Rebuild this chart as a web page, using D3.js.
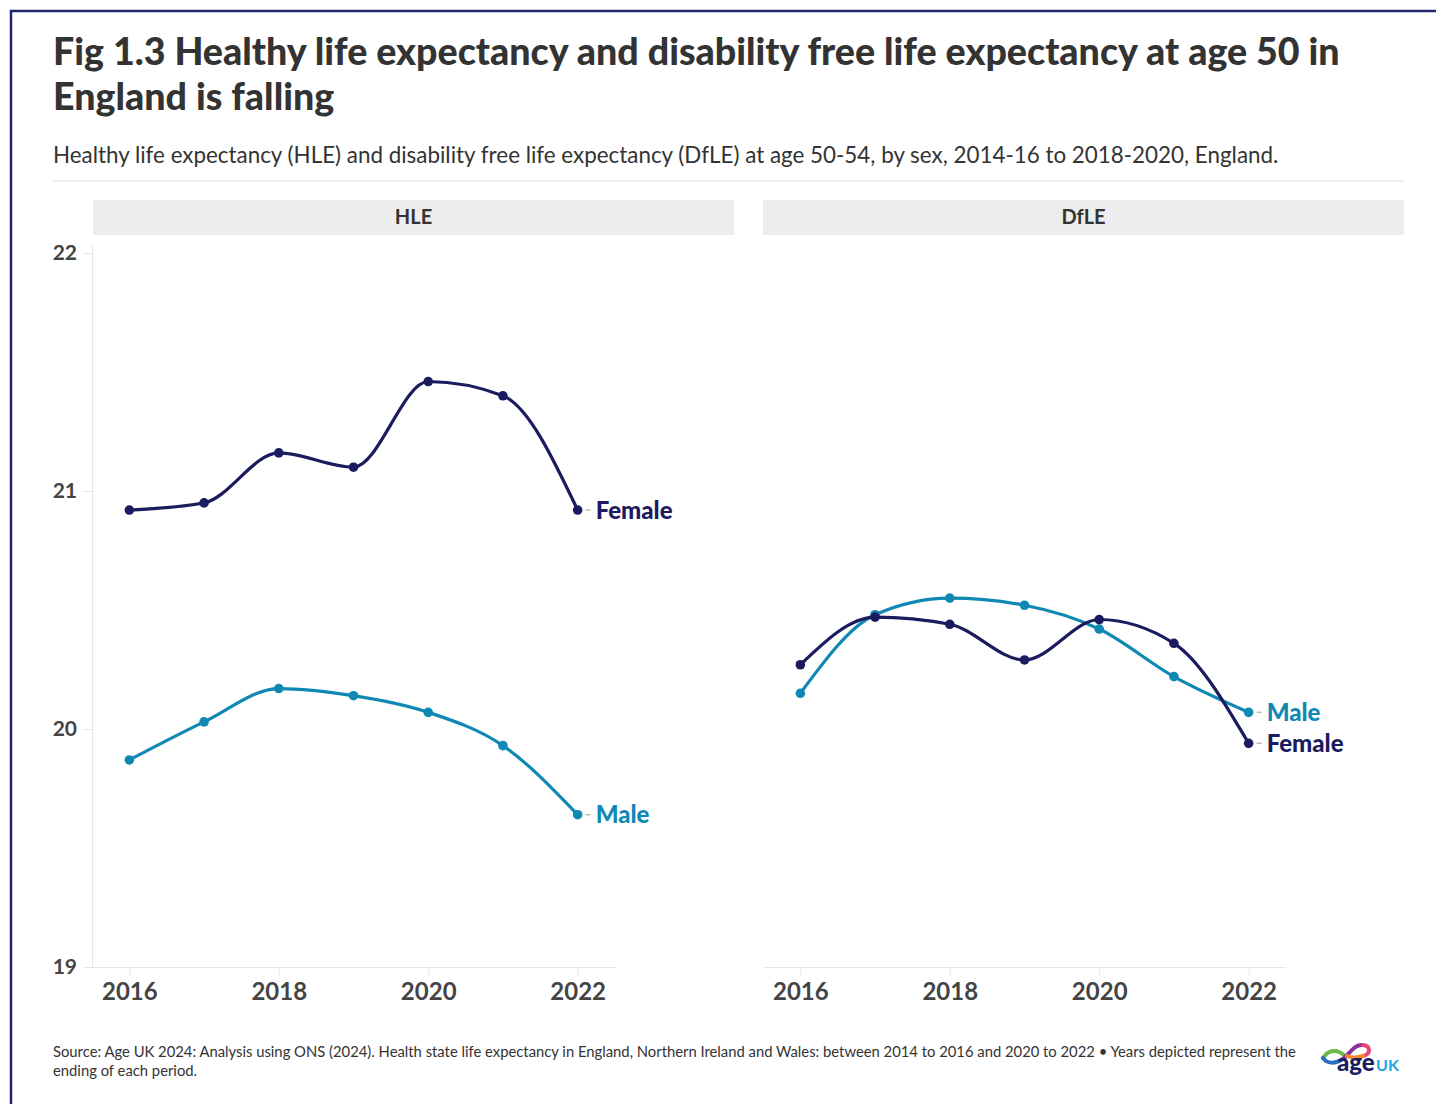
<!DOCTYPE html>
<html><head><meta charset="utf-8">
<script src="https://cdn.jsdelivr.net/npm/d3@7/dist/d3.min.js"></script>
<style>
html,body{margin:0;padding:0;background:#fff;}
svg{display:block;}
</style></head>
<body>
<svg id="chart" width="1436" height="1104"></svg>
<script>
const years = [2016, 2017, 2018, 2019, 2020, 2021, 2022];
const panels = ["HLE", "DfLE"];
const hleFemale = [20.92, 20.95, 21.16, 21.10, 21.46, 21.40, 20.92];
const hleMale   = [19.87, 20.03, 20.17, 20.14, 20.07, 19.93, 19.64];
const dfleFemale = [20.27, 20.47, 20.44, 20.29, 20.46, 20.36, 19.94];
const dfleMale   = [20.15, 20.48, 20.55, 20.52, 20.42, 20.22, 20.07];
const yTicks = [19, 20, 21, 22];
const xTicks = [2016, 2018, 2020, 2022];
const seriesNames = ["Female", "Male"];

const titleLines = ["Fig 1.3 Healthy life expectancy and disability free life expectancy at age 50 in", "England is falling"];
const subtitle = "Healthy life expectancy (HLE) and disability free life expectancy (DfLE) at age 50-54, by sex, 2014-16 to 2018-2020, England.";
const sourceLines = ["Source: Age UK 2024: Analysis using ONS (2024). Health state life expectancy in England, Northern Ireland and Wales: between 2014 to 2016 and 2020 to 2022 \u2022 Years depicted represent the", "ending of each period."];

const colors = {Female: "#1b1b5f", Male: "#0f88b4"};
const FONT = "Lato, 'Noto Sans', sans-serif";

const svg = d3.select("#chart");

// border
svg.append("path").attr("d", "M11,1104 L11,11 L1436,11")
  .attr("fill", "none").attr("stroke", "#23246e").attr("stroke-width", 2.5);

// title
const title = svg.append("text").attr("x", 53).attr("font-family", FONT)
  .attr("font-weight", 900).attr("font-size", 37.6).attr("fill", "#333");
titleLines.forEach((t, i) => title.append("tspan").attr("x", 53).attr("y", 65 + i * 45).text(t));

svg.append("text").attr("x", 53).attr("y", 163).attr("font-family", FONT)
  .attr("font-size", 22.4).attr("fill", "#333").text(subtitle);

svg.append("line").attr("x1", 53).attr("x2", 1404).attr("y1", 181).attr("y2", 181)
  .attr("stroke", "#dcdcdc").attr("stroke-width", 1);

const y = d3.scaleLinear().domain([19, 22]).range([967, 253]);

const panelData = [
  {name: "HLE", female: hleFemale, male: hleMale, left: 92, strip: [93, 734]},
  {name: "DfLE", female: dfleFemale, male: dfleMale, left: 763, strip: [763, 1404]}
];

const line = (x) => d3.line().x((d, i) => x(years[i])).y(d => y(d)).curve(d3.curveMonotoneX);

panelData.forEach((p, pi) => {
  const x = d3.scaleLinear().domain([2015.5, 2022.5]).range([p.left, p.left + 523]);
  const g = svg.append("g");

  // strip
  g.append("rect").attr("x", p.strip[0]).attr("y", 200).attr("width", p.strip[1] - p.strip[0]).attr("height", 35)
    .attr("fill", "#ededed");
  g.append("text").attr("x", (p.strip[0] + p.strip[1]) / 2).attr("y", 224).attr("text-anchor", "middle")
    .attr("font-family", FONT).attr("font-weight", 700).attr("font-size", 20).attr("fill", "#333").text(p.name);

  // x axis
  const xAxis = g.append("g").attr("transform", "translate(0,967)")
    .call(d3.axisBottom(x).tickValues(xTicks).tickFormat(d3.format("d")).tickSize(8).tickPadding(6));
  xAxis.select(".domain").attr("stroke", "#e6e6e6").attr("d", `M${p.left},0.5H${p.left + 523}`);
  xAxis.selectAll(".tick line").attr("stroke", "#e6e6e6");
  xAxis.selectAll(".tick text").attr("font-family", FONT).attr("font-size", 24).attr("font-weight", 700)
    .attr("fill", "#444").attr("dy", "0.8em");

  if (pi === 0) {
    const yAxis = g.append("g").attr("transform", `translate(${p.left},0)`)
      .call(d3.axisLeft(y).tickValues(yTicks).tickFormat(d3.format("d")).tickSize(9).tickPadding(6));
    yAxis.select(".domain").attr("stroke", "#e6e6e6").attr("d", `M0.5,245V967`);
    yAxis.selectAll(".tick line").attr("stroke", "#e6e6e6");
    yAxis.selectAll(".tick text").attr("font-family", FONT).attr("font-size", 21).attr("font-weight", 700)
      .attr("fill", "#444");
  }

  const series = [{name: "Male", vals: p.male}, {name: "Female", vals: p.female}];
  series.forEach(s => {
    g.append("path").datum(s.vals).attr("d", line(x)).attr("fill", "none")
      .attr("stroke", colors[s.name]).attr("stroke-width", 3.2);
    g.selectAll(null).data(s.vals).enter().append("circle")
      .attr("cx", (d, i) => x(years[i])).attr("cy", d => y(d)).attr("r", 4.8)
      .attr("fill", colors[s.name]);
    const last = s.vals[s.vals.length - 1];
    const lx = x(years[years.length - 1]);
    g.append("line").attr("x1", lx + 8).attr("x2", lx + 13).attr("y1", y(last)).attr("y2", y(last))
      .attr("stroke", "#bbb").attr("stroke-width", 1.5);
    g.append("text").attr("x", lx + 18).attr("y", y(last)).attr("dy", "0.36em")
      .attr("font-family", FONT).attr("font-weight", 900).attr("font-size", 24)
      .attr("fill", colors[s.name]).text(s.name);
  });
});

// source
const src = svg.append("text").attr("font-family", FONT).attr("font-size", 14.8).attr("fill", "#333");
sourceLines.forEach((t, i) => src.append("tspan").attr("x", 53).attr("y", 1057 + i * 19).text(t));

// logo
const logo = svg.append("g").attr("transform", "translate(1321,1042)");
const sw = [["M2,16 C8,6 18,8 24,14", "#6dbb45"], ["M2,16 C6,22 14,22 22,17", "#2b6cc4"],
  ["M22,17 C30,10 34,2 42,3", "#8a2f9a"], ["M42,3 C50,4 50,12 42,14", "#e8457a"], ["M42,14 C36,16 30,16 26,14", "#f28a2e"]];
sw.forEach(([d, c]) => logo.append("path").attr("d", d).attr("stroke", c).attr("stroke-width", 4)
  .attr("fill", "none").attr("stroke-linecap", "round"));
logo.append("text").attr("x", 16).attr("y", 29).attr("font-family", FONT).attr("font-weight", 900)
  .attr("font-size", 24).attr("fill", "#1b1b5f").text("age");
logo.append("text").attr("x", 55).attr("y", 29).attr("font-family", FONT).attr("font-weight", 700)
  .attr("font-size", 16).attr("fill", "#1ea7e0").text("UK");
</script>
</body></html>
